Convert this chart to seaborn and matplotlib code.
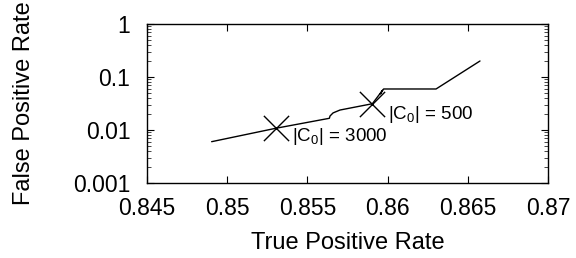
import matplotlib
matplotlib.use("Agg")
import matplotlib.pyplot as plt
import seaborn as sns
import pandas as pd
from matplotlib.ticker import LogLocator, NullFormatter, FixedLocator

sns.set_theme(style="white")
plt.rcParams['font.family'] = ['Liberation Sans', 'DejaVu Sans']
plt.rcParams['mathtext.fontset'] = 'custom'
plt.rcParams['mathtext.rm'] = 'Liberation Sans'
plt.rcParams['mathtext.it'] = 'Liberation Sans'
plt.rcParams['mathtext.default'] = 'regular'

# curve data
tpr = [0.84903, 0.85302, 0.85637, 0.85641, 0.85660, 0.85703, 0.85905,
       0.85968, 0.85955, 0.85975, 0.86302, 0.86576]
fpr = [0.00602, 0.01076, 0.01663, 0.01837, 0.0210, 0.0238, 0.0313,
       0.0560, 0.0480, 0.0594, 0.0594, 0.2004]

# highlighted points
mark_tpr = [0.85302, 0.85905]
mark_fpr = [0.01076, 0.0313]
mark_labels = ["|C$_0$| = 3000", "|C$_0$| = 500"]
label_x = [0.85402, 0.86002]
label_y = [0.0074, 0.0192]

x_ticks = [0.845, 0.85, 0.855, 0.86, 0.865, 0.87]
x_tick_labels = ["0.845", "0.85", "0.855", "0.86", "0.865", "0.87"]
y_ticks = [0.001, 0.01, 0.1, 1]
y_tick_labels = ["0.001", "0.01", "0.1", "1"]

df = pd.DataFrame({"tpr": tpr, "fpr": fpr})
dm = pd.DataFrame({"tpr": mark_tpr, "fpr": mark_fpr})

fig = plt.figure(figsize=(5.76, 2.58), dpi=100)
ax = fig.add_axes([0.2552, 0.2907, 0.6962, 0.6163])

sns.lineplot(data=df, x="tpr", y="fpr", sort=False, color="black",
             linewidth=1.0, ax=ax, estimator=None)
sns.scatterplot(data=dm, x="tpr", y="fpr", marker="x", s=330, color="black",
                linewidth=1.0, ax=ax)

for lx, ly, t in zip(label_x, label_y, mark_labels):
    ax.text(lx, ly, t, ha="left", va="center", fontsize=13.5, color="black")

ax.set_yscale("log")
ax.set_xlim(0.845, 0.87)
ax.set_ylim(0.001, 1)
ax.xaxis.set_major_locator(FixedLocator(x_ticks))
ax.set_xticklabels(x_tick_labels)
ax.yaxis.set_major_locator(FixedLocator(y_ticks))
ax.set_yticklabels(y_tick_labels)
ax.yaxis.set_minor_locator(LogLocator(base=10, subs=range(2, 10)))
ax.yaxis.set_minor_formatter(NullFormatter())

ax.tick_params(axis="both", which="major", direction="in", length=5, width=0.8,
               top=True, right=True, bottom=True, left=True,
               labelsize=16.5, colors="black")
ax.tick_params(axis="x", which="major", pad=10)
ax.tick_params(axis="y", which="major", pad=12)
ax.tick_params(axis="y", which="minor", direction="in", length=3, width=0.6,
               left=True, right=True)
for s in ax.spines.values():
    s.set_color("black")
    s.set_linewidth(1.0)

ax.set_xlabel("True Positive Rate", fontsize=17, color="black")
ax.set_ylabel("False Positive Rate", fontsize=17, color="black")
ax.yaxis.set_label_coords(-0.28, 0.5)
ax.xaxis.set_label_coords(0.5, -0.31)

fig.savefig("out.png", dpi=100)
